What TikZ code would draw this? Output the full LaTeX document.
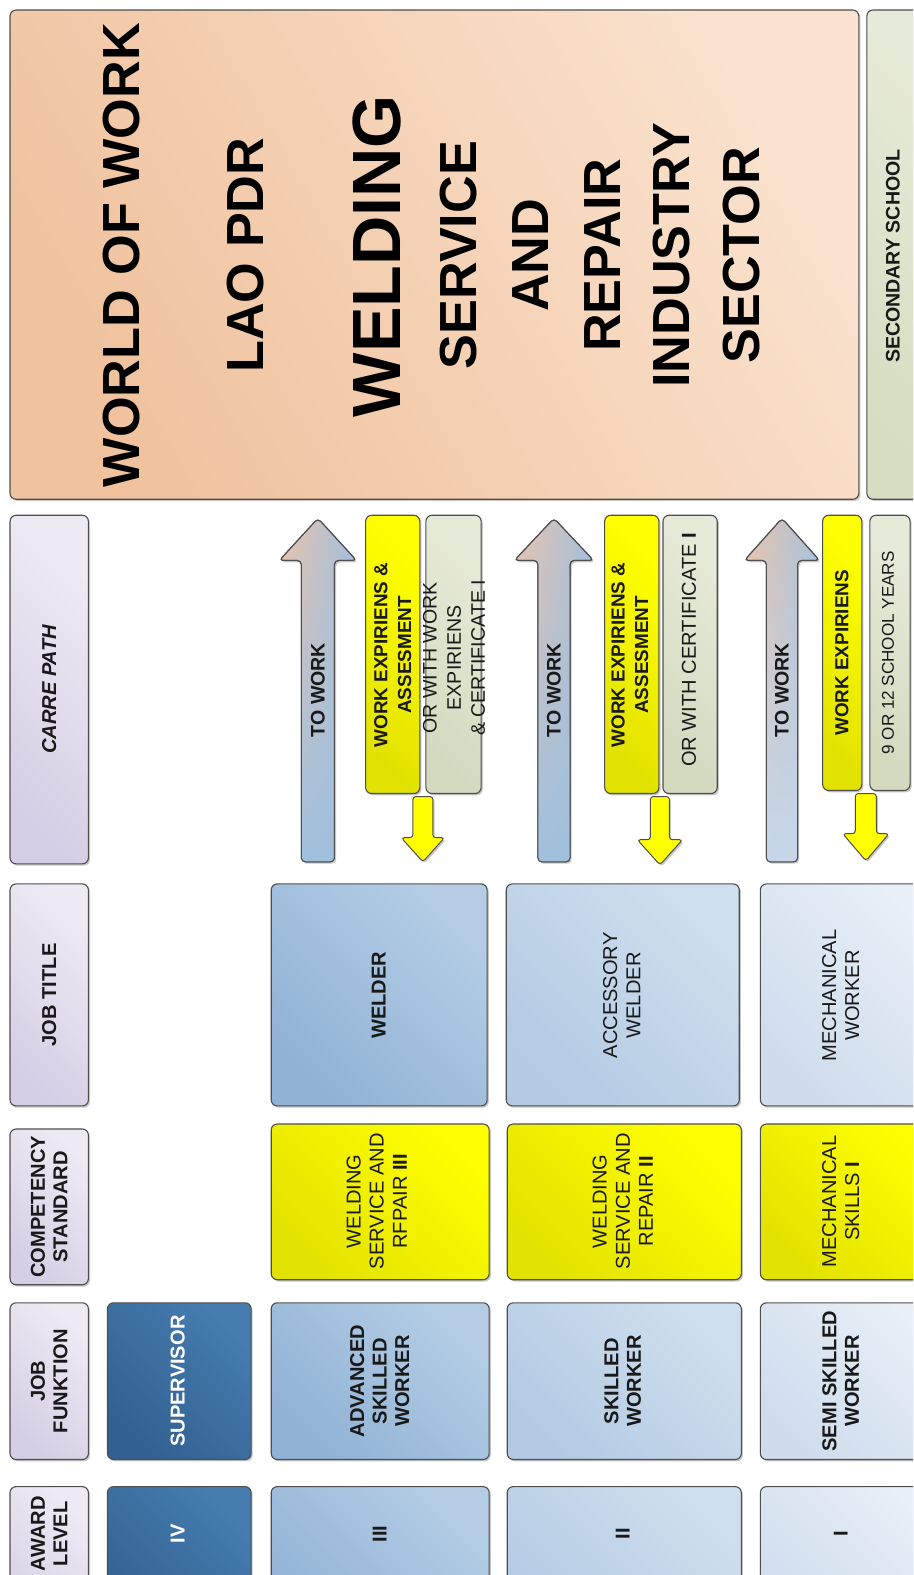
\documentclass[tikz,border=0pt]{standalone}
\usepackage{fontspec}
\setmainfont{Liberation Sans}
\usetikzlibrary{shadows,fadings}
\definecolor{bord}{RGB}{78,78,78}
\definecolor{peachD}{RGB}{240,194,158}
\definecolor{peachL}{RGB}{250,226,206}
\definecolor{secD}{RGB}{214,221,192}
\definecolor{secL}{RGB}{230,234,216}
\definecolor{lavD}{RGB}{214,206,228}
\definecolor{lavL}{RGB}{238,234,244}
\definecolor{dkD}{RGB}{50,96,146}
\definecolor{dkL}{RGB}{70,124,174}
\definecolor{bthD}{RGB}{144,178,213}
\definecolor{bthL}{RGB}{180,205,229}
\definecolor{btwD}{RGB}{178,202,227}
\definecolor{btwL}{RGB}{208,223,238}
\definecolor{boD}{RGB}{206,220,236}
\definecolor{boL}{RGB}{232,239,247}
\definecolor{yD}{RGB}{226,226,0}
\definecolor{yL}{RGB}{255,255,0}
\definecolor{ggD}{RGB}{212,218,192}
\definecolor{ggL}{RGB}{230,234,216}
\definecolor{arrT}{RGB}{236,196,170}
\definecolor{arrR}{RGB}{164,192,222}
\definecolor{arrB}{RGB}{160,192,222}
\definecolor{arrBL}{RGB}{198,215,234}
\newcommand{\bx}[6]{\node[#2, anchor=north west, minimum width={#5-#3}, minimum height={#6-#4}] (#1) at (#3,#4) {};}
\newcommand{\tx}[4]{\node[#2, rotate=90, align=center, inner sep=0pt] (#1) at (#3) {#4};}
\newcommand{\blockarrow}[7]{\draw[#1] ({#2-#6},#5) -- ({#2-#6},#4) -- ({#2-#7},#4) -- (#2,#3) -- ({#2+#7},#4) -- ({#2+#6},#4) -- ({#2+#6},#5) -- cycle;}
\tikzset{
  shad/.style={drop shadow={shadow xshift=1.6pt,shadow yshift=-1.8pt,opacity=0.22,fill=black}},
  box/.style={draw=bord, line width=1.1pt, rounded corners=6pt, inner sep=0pt, outer sep=0pt, shad},
  grad/.style 2 args={top color=#2, bottom color=#1, shading angle=-45},
  peach/.style={box, top color=peachL, bottom color=peachD, shading angle=-60},
  secbox/.style={box, grad={secD}{secL}},
  lav/.style={box, grad={lavD}{lavL}},
  dk/.style={box, grad={dkD}{dkL}},
  bth/.style={box, grad={bthD}{bthL}},
  btw/.style={box, grad={btwD}{btwL}},
  bon/.style={box, grad={boD}{boL}},
  yel/.style={box, grad={yD}{yL}},
  gg/.style={box, grad={ggD}{ggL}},
  uparrow/.style={draw=bord, line width=1pt, rounded corners=4pt, left color=arrT, right color=arrR, shad,
     postaction={fill=#1, path fading=north}, postaction={draw=bord, line width=1pt}},
  dnarrow/.style={draw=bord, line width=1pt, rounded corners=3pt, fill=yL, shad},
  huge/.style={font=\fontsize{52}{56}\selectfont\bfseries},
  huger/.style={font=\fontsize{68}{72}\selectfont\bfseries},
  tb/.style={font=\fontsize{20}{22.5}\selectfont\bfseries, text=black!90},
  tr/.style={font=\fontsize{20}{23}\selectfont, text=black!90},
  tbs/.style={font=\fontsize{18.8}{23.5}\selectfont\bfseries, text=black!90},
  trw/.style={font=\fontsize{19.5}{24}\selectfont, text=black!90},
}
\begin{document}
\begin{tikzpicture}[x=1pt,y=-1pt]
\useasboundingbox (0,0) rectangle (909,1568);
\clip (0,0) rectangle (909,1568);
\fill[white] (0,0) rectangle (909,1568);

% top region
\bx{top}{peach}{10}{10}{855}{497}
\bx{sec}{secbox}{863}{10}{940}{497}
\tx{tWorld}{huge}{121,254}{WORLD OF WORK}
\tx{tLao}{huge}{244,254}{LAO PDR}
\tx{tWeld}{huger}{375,255}{WELDING}
\tx{tServ}{huge}{456,254}{SERVICE}
\tx{tAnd}{huge}{528,254}{AND}
\tx{tRep}{huge}{600,254}{REPAIR}
\tx{tInd}{huge}{669,254}{INDUSTRY}
\tx{tSect}{huge}{738,254}{SECTOR}
\tx{tSecSch}{tb,font=\fontsize{19.5}{22}\selectfont\bfseries}{889,255}{SECONDARY SCHOOL}

% header column
\bx{hCarre}{lav}{10}{513}{88}{860}
\bx{hTitle}{lav}{10}{880}{88}{1101}
\bx{hComp}{lav}{10}{1124}{88}{1279}
\bx{hFunk}{lav}{10}{1297}{88}{1453}
\bx{hAward}{lav}{10}{1480}{88}{1640}
\tx{tCarre}{tb,font=\fontsize{20}{22.5}\selectfont\bfseries\itshape}{hCarre.center}{CARRE PATH}
\tx{tTitle}{tb}{hTitle.center}{JOB TITLE}
\tx{tComp}{tb}{hComp.center}{COMPETENCY\\STANDARD}
\tx{tFunk}{tb}{hFunk.center}{JOB\\FUNKTION}
\tx{tAward}{tb}{49,1527}{AWARD\\LEVEL}

% carre path
\blockarrow{uparrow=arrB}{316.5}{516}{558}{858}{16.5}{38.5}
\blockarrow{uparrow=arrB}{551.5}{516}{558}{858}{16}{39.5}
\blockarrow{uparrow=arrBL}{778.5}{516}{558}{858}{15.5}{37.5}
\tx{tWork1}{tb,font=\fontsize{19.5}{22}\selectfont\bfseries}{316.5,687}{TO WORK}
\tx{tWork2}{tb,font=\fontsize{19.5}{22}\selectfont\bfseries}{551.5,687}{TO WORK}
\tx{tWork3}{tb,font=\fontsize{19.5}{22}\selectfont\bfseries}{778.5,687}{TO WORK}

\bx{y1}{yel}{364}{513}{418}{790}
\bx{g1}{gg}{424}{513}{479}{790}
\bx{y2}{yel}{602}{513}{656}{790}
\bx{g2}{gg}{660}{513}{714}{790}
\bx{y3}{yel}{819}{513}{858}{787}
\bx{g3}{gg}{866}{513}{906}{787}
\tx{ty1}{tbs}{391,652}{WORK EXPIRIENS \&\\ASSESMENT}
\tx{tg1}{trw}{452,655}{OR WITH WORK\\EXPIRIENS\\\& CERTIFICATE I}
\tx{ty2}{tbs}{627,652}{WORK EXPIRIENS \&\\ASSESMENT}
\tx{tg2}{tr}{686,647}{OR WITH CERTIFICATE \textbf{I}}
\tx{ty3}{tbs}{838,650}{WORK EXPIRIENS}
\tx{tg3}{tr,font=\fontsize{17}{20}\selectfont}{884,650}{9 OR 12 SCHOOL YEARS}

\blockarrow{dnarrow}{421}{858}{834}{793}{10}{21.5}
\blockarrow{dnarrow}{657}{861}{836}{793}{9.5}{22.5}
\blockarrow{dnarrow}{862}{857}{830}{790}{10.5}{23}

% job title
\bx{jt3}{bth}{270}{880}{485}{1101}
\bx{jt2}{btw}{504}{880}{736}{1101}
\bx{jt1}{bon}{757}{880}{940}{1101}
\tx{tjt3}{tb}{377,991}{WELDER}
\tx{tjt2}{tr}{619,991}{ACCESSORY\\WELDER}
\tx{tjt1}{tr}{837,991}{MECHANICAL\\WORKER}

% competency standard
\bx{cs3}{yel}{270}{1119}{487}{1274}
\bx{cs2}{yel}{505}{1119}{738}{1274}
\bx{cs1}{yel}{757}{1119}{940}{1274}
\tx{tcs3}{tr}{375,1196}{WELDING\\SERVICE AND\\RFPAIR \textbf{III}}
\tx{tcs2}{tr}{620,1196}{WELDING\\SERVICE AND\\REPAIR \textbf{II}}
\tx{tcs1}{tr}{837,1196}{MECHANICAL\\SKILLS \textbf{I}}

% job funktion
\bx{jf4}{dk}{107}{1297}{250}{1453}
\bx{jf3}{bth}{270}{1297}{487}{1453}
\bx{jf2}{btw}{505}{1297}{738}{1453}
\bx{jf1}{bon}{757}{1297}{940}{1453}
\tx{tjf4}{tb,text=white}{177,1375}{SUPERVISOR}
\tx{tjf3}{tb}{378,1375}{ADVANCED\\SKILLED\\WORKER}
\tx{tjf2}{tb}{620,1375}{SKILLED\\WORKER}
\tx{tjf1}{tb}{837,1375}{SEMI SKILLED\\WORKER}

% award level
\bx{al4}{dk}{107}{1480}{250}{1640}
\bx{al3}{bth}{270}{1480}{487}{1640}
\bx{al2}{btw}{505}{1480}{738}{1640}
\bx{al1}{bon}{757}{1480}{940}{1640}
\tx{tal4}{tb,text=white}{177,1527}{IV}
\tx{tal3}{tb}{378,1527}{III}
\tx{tal2}{tb}{620,1527}{II}
\tx{tal1}{tb}{837,1527}{I}
\end{tikzpicture}
\end{document}
